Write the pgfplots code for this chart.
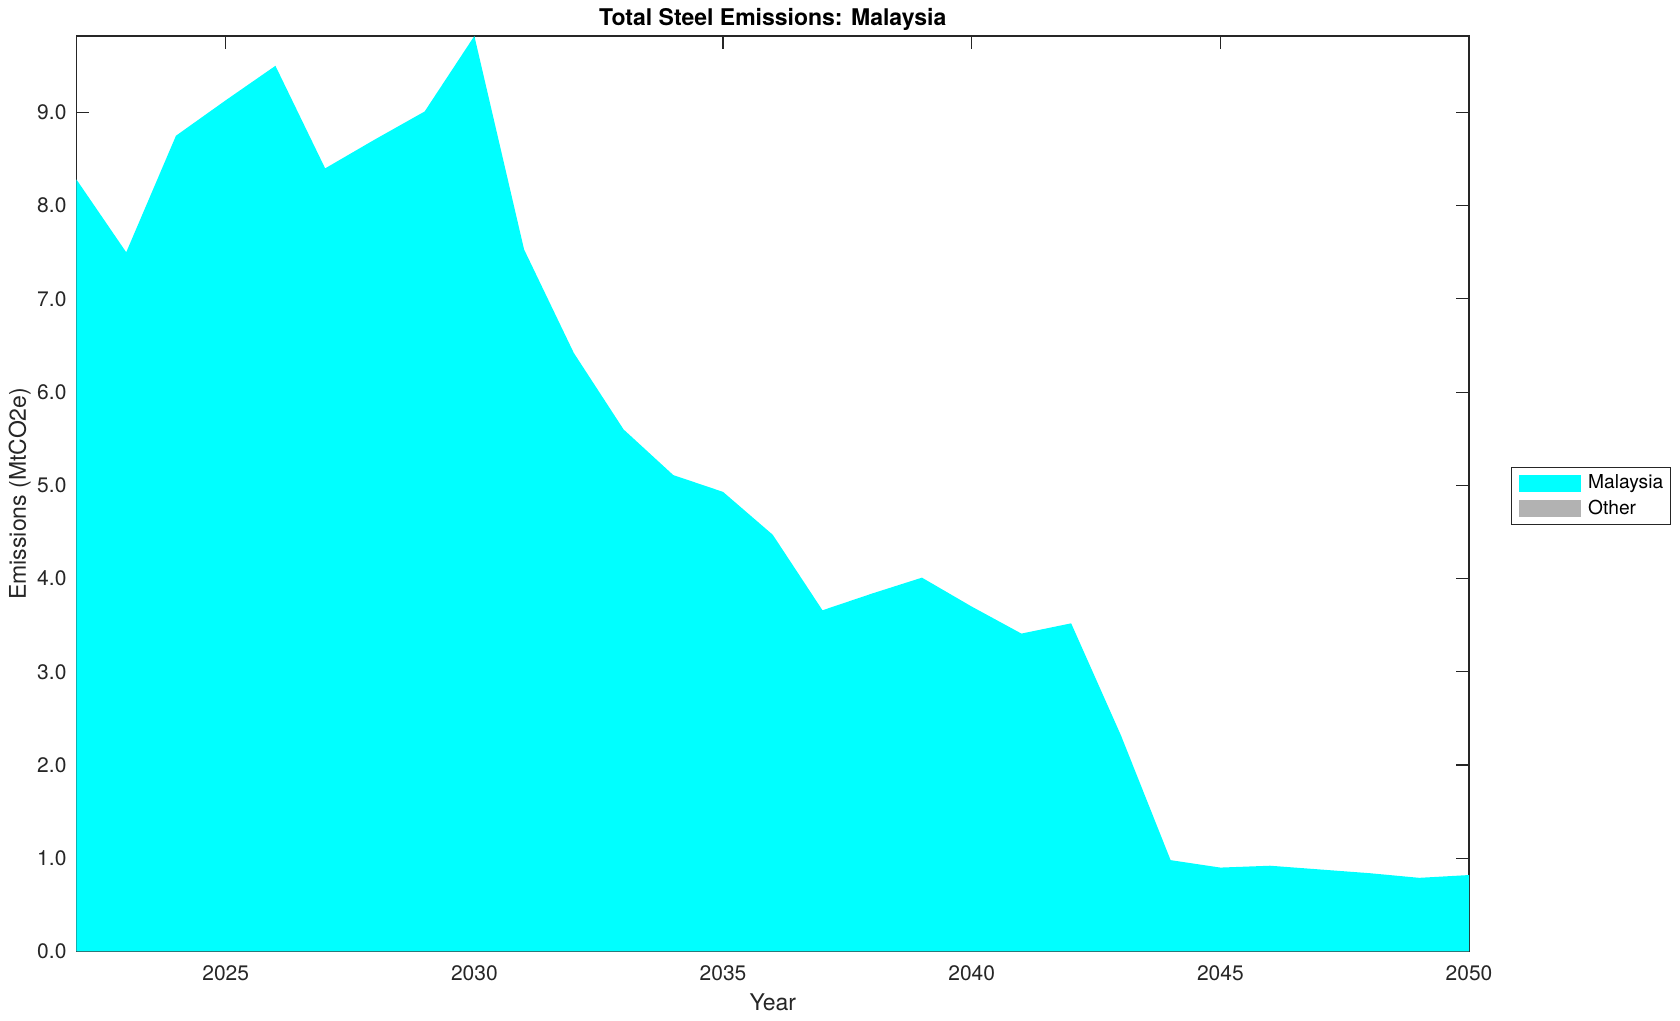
\documentclass[border=0pt]{standalone}
\usepackage{fontspec}
\setmainfont{TeX Gyre Heros}
\usepackage{pgfplots}
\pgfplotsset{compat=1.18}
\definecolor{axgray}{rgb}{0.15,0.15,0.15}
\definecolor{mcyan}{rgb}{0,1,1}
\definecolor{mgray}{rgb}{0.7,0.7,0.7}
\begin{document}
\begin{tikzpicture}
\useasboundingbox (0,0) rectangle (840pt,510.5pt);
\begin{axis}[
  at={(38.25pt,34.75pt)}, anchor=south west,
  width=696.25pt, height=457.75pt, scale only axis,
  xmin=2022, xmax=2050, ymin=0, ymax=9.82,
  xtick={2025,2030,2035,2040,2045,2050},
  ytick={0,1,2,3,4,5,6,7,8,9},
  tick align=inside, major tick length=6.5pt,
  axis line style={axgray, line width=0.6pt},
  every tick/.style={axgray, line width=0.6pt},
  tick label style={font=\fontsize{10.5}{12}\selectfont, text=axgray},
  /pgf/number format/assume math mode=true,
  xticklabel style={/pgf/number format/1000 sep={}, anchor=center, yshift=-10.75pt},
  yticklabel style={/pgf/number format/.cd, fixed, fixed zerofill, precision=1, /tikz/.cd, xshift=-1.5pt},
  every axis title shift=0pt,
  title={\textbf{Total Steel Emissions: Malaysia}},
  title style={font=\fontsize{11.5}{13}\selectfont, at={(axis description cs:0.5,1)}, anchor=center, yshift=8.35pt},
  xlabel={Year},
  xlabel style={font=\fontsize{11.5}{13}\selectfont, text=axgray, at={(axis description cs:0.5,0)}, anchor=center, yshift=-25.25pt},
  ylabel={Emissions (MtCO2e)},
  ylabel style={font=\fontsize{11.5}{13}\selectfont, text=axgray, at={(axis description cs:0,0.5)}, anchor=center, yshift=28.35pt},
  legend style={at={(1.0299,0.5289)}, anchor=north west, draw=axgray, line width=0.5pt,
    font=\fontsize{9.6}{11}\selectfont, inner sep=1.5pt, row sep=0pt, cells={anchor=west}},
  legend image code/.code={\path (0pt,0pt) (35pt,0pt); \fill[#1] (2.5pt,-4.25pt) rectangle (33.5pt,4.25pt);},
  legend cell align=left,
]
\addplot[fill=mcyan, draw=none] coordinates {
(2022,8.28) (2023,7.50) (2024,8.75) (2025,9.13) (2026,9.50) (2027,8.40) (2028,8.71) (2029,9.01) (2030,9.82)
(2031,7.53) (2032,6.42) (2033,5.60) (2034,5.11) (2035,4.93) (2036,4.47) (2037,3.66) (2038,3.84) (2039,4.01)
(2040,3.70) (2041,3.41) (2042,3.52) (2043,2.32) (2044,0.98) (2045,0.90) (2046,0.92) (2047,0.88) (2048,0.84)
(2049,0.79) (2050,0.82)
} \closedcycle;
\addlegendentry{Malaysia}
\addplot[fill=mgray, draw=none] coordinates {
(2022,0) (2030,0) (2040,0) (2050,0)
} \closedcycle;
\addlegendentry{Other}
\end{axis}
\end{tikzpicture}
\end{document}
